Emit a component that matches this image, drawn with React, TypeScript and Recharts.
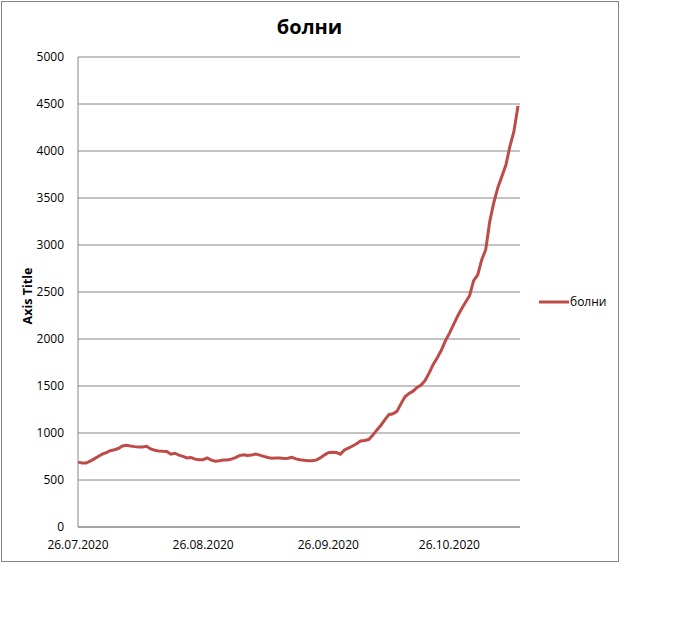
import React from 'react';
import { LineChart, Line, XAxis, YAxis, CartesianGrid, Legend } from 'recharts';

const START_DAY = { y: 2020, m: 7, d: 26 };
const VALUES = [
  690, 682, 680, 700, 725, 750, 775, 792, 812, 822,
  835, 862, 870, 862, 855, 851, 851, 858, 830, 816,
  808, 805, 803, 775, 785, 765, 752, 735, 740, 722,
  715, 716, 735, 712, 700, 705, 713, 713, 722, 738,
  760, 768, 760, 765, 777, 765, 752, 740, 732, 735,
  734, 728, 732, 742, 725, 716, 710, 706, 706, 712,
  735, 765, 790, 795, 792, 775, 820, 840, 862, 885,
  915, 920, 930, 975, 1030, 1080, 1140, 1195, 1205, 1230,
  1310, 1385, 1420, 1445, 1485, 1510, 1560, 1640, 1730, 1800,
  1880, 1980, 2060, 2150, 2240, 2320, 2390, 2460, 2620, 2680,
  2840, 2950, 3250, 3450, 3610, 3730, 3850, 4050, 4210, 4480,
];
const X_TICKS = ['26.07.2020', '26.08.2020', '26.09.2020', '26.10.2020'];
const Y_TICKS = [0, 500, 1000, 1500, 2000, 2500, 3000, 3500, 4000, 4500, 5000];
const SERIES_NAME = 'болни';
const TITLE = 'болни';
const AXIS_TITLE = 'Axis Title';

const pad = (n: number) => (n < 10 ? '0' + n : '' + n);
const DATES = VALUES.map((_, i) => {
  const dt = new Date(Date.UTC(START_DAY.y, START_DAY.m - 1, START_DAY.d + i));
  return `${pad(dt.getUTCDate())}.${pad(dt.getUTCMonth() + 1)}.${dt.getUTCFullYear()}`;
});
const data = DATES.map((date, i) => ({ date, value: VALUES[i] }));

const FONT = '"Open Sans", sans-serif';
const GRID = '#868686';
const LINE = '#BE4B48';

const LegendContent = () => (
  <div style={{ display: 'flex', alignItems: 'center', fontFamily: FONT, fontSize: 12, color: '#000' }}>
    <svg width={30} height={6} style={{ display: 'block' }}>
      <line x1={0} y1={3} x2={30} y2={3} stroke={LINE} strokeWidth={3} />
    </svg>
    <span style={{ marginLeft: 1, lineHeight: '18px' }}>{SERIES_NAME}</span>
  </div>
);

const AxisTitle = (props: any) => {
  const vb = props.viewBox || { x: 18, y: 57, width: 60, height: 470 };
  const cx = 27.5;
  const cy = vb.y + vb.height / 2 + 4;
  return (
    <text
      x={cx}
      y={cy}
      transform={`rotate(-90, ${cx}, ${cy})`}
      textAnchor="middle"
      dominantBaseline="central"
      style={{ fontFamily: FONT, fontSize: 12.5, fontWeight: 700, fill: '#000' }}
    >
      {AXIS_TITLE}
    </text>
  );
};

export default function App() {
  return (
    <div style={{ position: 'absolute', left: 0, top: 0, width: 692, height: 621, background: '#fff' }}>
      <div
        style={{
          position: 'absolute',
          left: 1,
          top: 1,
          width: 618,
          height: 561,
          border: `1px solid ${GRID}`,
          boxSizing: 'border-box',
        }}
      />
      <div
        style={{
          position: 'absolute',
          left: 0,
          top: 17,
          width: 619,
          textAlign: 'center',
          fontFamily: FONT,
          fontWeight: 700,
          fontSize: 20,
          lineHeight: '20px',
          color: '#000',
        }}
      >
        {TITLE}
      </div>
      <div style={{ position: 'absolute', left: 0, top: 0 }}>
        <LineChart
          width={692}
          height={621}
          data={data}
          margin={{ top: 57, right: 172, bottom: 64, left: 18 }}
          style={{ fontFamily: FONT }}
        >
          <CartesianGrid horizontal vertical={false} stroke={GRID} strokeWidth={1} />
          <XAxis
            dataKey="date"
            ticks={X_TICKS}
            interval={0}
            height={30}
            tickLine={false}
            tickSize={0}
            tickMargin={13}
            axisLine={{ stroke: GRID }}
            padding={{ left: 0, right: 2 }}
            tick={{ fill: '#000', fontSize: 12, fontFamily: FONT }}
          />
          <YAxis
            domain={[0, 5000]}
            ticks={Y_TICKS}
            width={60}
            tickLine={false}
            tickSize={0}
            tickMargin={14}
            axisLine={{ stroke: GRID }}
            tick={{ fill: '#000', fontSize: 12, fontFamily: FONT }}
            label={{ content: AxisTitle }}
          />
          <Legend
            layout="horizontal"
            verticalAlign="middle"
            align="center"
            content={LegendContent}
            wrapperStyle={{ left: 539, top: 293, width: 80, height: 18 }}
          />
          <Line
            type="linear"
            dataKey="value"
            name={SERIES_NAME}
            stroke={LINE}
            strokeWidth={3}
            dot={false}
            activeDot={false}
            isAnimationActive={false}
          />
        </LineChart>
      </div>
    </div>
  );
}
